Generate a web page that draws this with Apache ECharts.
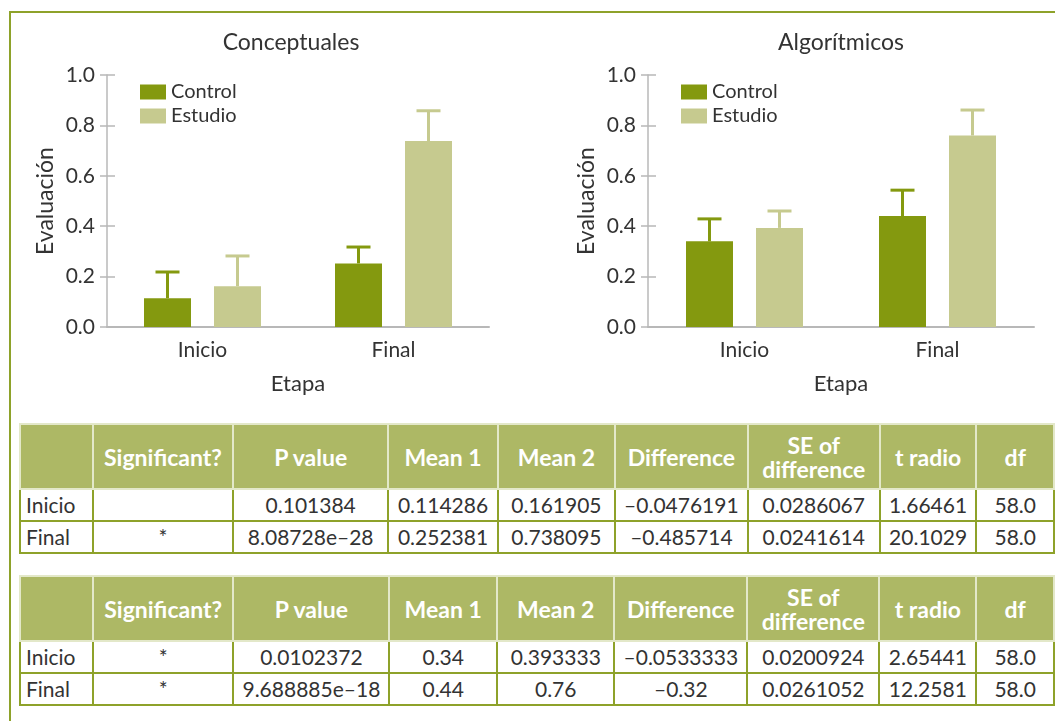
<!DOCTYPE html>
<html>
<head>
<meta charset="utf-8">
<script src="https://cdn.jsdelivr.net/npm/echarts@6/dist/echarts.min.js"></script>
<style>
body { margin: 0; width: 1055px; height: 721px; overflow: hidden; background: #fff; position: relative; font-family: Lato, sans-serif; }
.frame { position: absolute; left: 9px; top: 11px; width: 1100px; height: 800px; border-left: 2px solid #8ea22a; border-top: 2px solid #8ea22a; }
#chart { position: absolute; left: 0; top: 0; width: 1055px; height: 415px; }
table.stats { position: absolute; left: 19px; border-collapse: collapse; table-layout: fixed; font-size: 21px; color: #333; }
table.stats th { background: #adb865; color: #fff; font-weight: bold; font-size: 23px; border: 2px solid #e3e8c9; height: 63px; line-height: 24px; padding: 0; }
table.stats td { border: 2px solid #8ea22a; height: 30px; line-height: 26px; padding: 0; text-align: center; white-space: nowrap; }
table.stats td:first-child { text-align: left; padding-left: 5px; }
</style>
</head>
<body>
<div class="frame"></div>
<div id="chart"></div>
<script>
// datos de las graficas
var categories = ['Inicio', 'Final'];
var groups = ['Control', 'Estudio'];
var yTicks = [0, 0.2, 0.4, 0.6, 0.8, 1.0];

var concControl = [0.114286, 0.252381];
var concEstudio = [0.161905, 0.738095];
var concControlErr = [0.104, 0.065];
var concEstudioErr = [0.12, 0.12];

var algoControl = [0.34, 0.44];
var algoEstudio = [0.393333, 0.76];
var algoControlErr = [0.089, 0.103];
var algoEstudioErr = [0.067, 0.101];

// tablas
var tableHeader = ['', 'Significant?', 'P value', 'Mean 1', 'Mean 2', 'Difference', 'SE of<br>difference', 't radio', 'df'];
var colWidths = [74, 142, 157, 111, 119, 134, 134, 98, 80];
var concRows = [
  ['Inicio', '', '0.101384', '0.114286', '0.161905', '–0.0476191', '0.0286067', '1.66461', '58.0'],
  ['Final', '*', '8.08728e–28', '0.252381', '0.738095', '–0.485714', '0.0241614', '20.1029', '58.0']
];
var algoRows = [
  ['Inicio', '*', '0.0102372', '0.34', '0.393333', '–0.0533333', '0.0200924', '2.65441', '58.0'],
  ['Final', '*', '9.688885e–18', '0.44', '0.76', '–0.32', '0.0261052', '12.2581', '58.0']
];

var cControl = '#84990f';
var cEstudio = '#c6ca8f';
var barW = 47, gapPx = 23;
var txt = '#333';
var axisGray = '#b8b8b8';

function buildTable(rows, top) {
  var t = document.createElement('table');
  t.className = 'stats';
  t.style.top = top + 'px';
  var cg = '<colgroup>' + colWidths.map(function (w) { return '<col style="width:' + w + 'px">'; }).join('') + '</colgroup>';
  var head = '<tr>' + tableHeader.map(function (h) { return '<th>' + h + '</th>'; }).join('') + '</tr>';
  var body = rows.map(function (r) {
    return '<tr>' + r.map(function (c) { return '<td>' + c + '</td>'; }).join('') + '</tr>';
  }).join('');
  t.innerHTML = cg + head + body;
  document.body.appendChild(t);
}
buildTable(concRows, 423);
buildTable(algoRows, 575);

function errSeries(name, g, means, errs, side, color) {
  return {
    name: name, type: 'custom', xAxisIndex: g * 2, yAxisIndex: g * 2, z: 3,
    data: means.map(function (m, i) { return [i, m, m + errs[i]]; }),
    renderItem: function (params, api) {
      var b = api.coord([api.value(0), api.value(1)]);
      var t = api.coord([api.value(0), api.value(2)]);
      var x = b[0] + side * (barW + gapPx) / 2;
      return {
        type: 'group',
        children: [
          { type: 'line', shape: { x1: x, y1: b[1], x2: x, y2: t[1] }, style: { stroke: color, lineWidth: 3 } },
          { type: 'line', shape: { x1: x - 12, y1: t[1], x2: x + 12, y2: t[1] }, style: { stroke: color, lineWidth: 3 } }
        ]
      };
    }
  };
}

function barSeries(name, g, vals, color) {
  return {
    name: name, type: 'bar', xAxisIndex: g * 2, yAxisIndex: g * 2,
    barWidth: barW, barGap: (gapPx / barW * 100) + '%',
    itemStyle: { color: color }, data: vals
  };
}

function xAxes(g) {
  return [{
    type: 'category', gridIndex: g, data: categories,
    name: 'Etapa', nameLocation: 'middle', nameGap: 46,
    nameTextStyle: { fontSize: 22, color: txt, fontFamily: 'Lato' },
    axisLine: { lineStyle: { color: axisGray, width: 2 } },
    axisTick: { alignWithLabel: true, length: 6, lineStyle: { color: axisGray, width: 1.5 } },
    axisLabel: { fontSize: 21, color: txt, margin: 13, fontFamily: 'Lato' }
  }, {
    type: 'category', gridIndex: g, data: categories, position: 'bottom',
    axisLine: { show: false }, axisLabel: { show: false },
    axisTick: { inside: true, alignWithLabel: true, length: 7, lineStyle: { color: axisGray, width: 1.5 } }
  }];
}

function yAxes(g) {
  return [{
    type: 'value', gridIndex: g, min: yTicks[0], max: yTicks[yTicks.length - 1], interval: yTicks[1] - yTicks[0],
    name: 'Evaluación', nameLocation: 'middle', nameGap: 50, nameRotate: 90,
    nameTextStyle: { fontSize: 23, color: txt, fontFamily: 'Lato' },
    splitLine: { show: false },
    axisLine: { show: true, lineStyle: { color: axisGray, width: 1.5 } },
    axisTick: { show: true, length: 7, lineStyle: { color: axisGray, width: 1.5 } },
    axisLabel: { fontSize: 21, color: txt, margin: 12, fontFamily: 'Lato', formatter: function (v) { return v.toFixed(1); } }
  }, {
    type: 'value', gridIndex: g, min: yTicks[0], max: yTicks[yTicks.length - 1], interval: yTicks[1] - yTicks[0],
    position: 'left', splitLine: { show: false }, axisLine: { show: false }, axisLabel: { show: false },
    axisTick: { show: true, inside: true, length: 8, lineStyle: { color: axisGray, width: 1.5 } }
  }];
}

function legend(left) {
  return {
    data: groups, orient: 'vertical', left: left, top: 77,
    itemWidth: 26, itemHeight: 15, itemGap: 4, icon: 'rect',
    textStyle: { fontSize: 20, color: txt, fontFamily: 'Lato', lineHeight: 20, padding: [0, 0, 0, 0] }
  };
}

var chart = echarts.init(document.getElementById('chart'));
chart.setOption({
  animation: false,
  textStyle: { fontFamily: 'Lato' },
  grid: [
    { left: 107, top: 75, width: 382, height: 252 },
    { left: 648, top: 75, width: 386, height: 252 }
  ],
  graphic: [
    { type: 'text', x: 291, y: 31, style: { text: 'Conceptuales', fontSize: 23, fill: txt, fontFamily: 'Lato', textAlign: 'center' } },
    { type: 'text', x: 841, y: 31, style: { text: 'Algorítmicos', fontSize: 23, fill: txt, fontFamily: 'Lato', textAlign: 'center' } }
  ],
  legend: [legend(135), legend(676)],
  xAxis: xAxes(0).concat(xAxes(1)),
  yAxis: yAxes(0).concat(yAxes(1)),
  series: [
    barSeries('Control', 0, concControl, cControl),
    barSeries('Estudio', 0, concEstudio, cEstudio),
    barSeries('Control', 1, algoControl, cControl),
    barSeries('Estudio', 1, algoEstudio, cEstudio),
    errSeries('Control', 0, concControl, concControlErr, -1, cControl),
    errSeries('Estudio', 0, concEstudio, concEstudioErr, 1, cEstudio),
    errSeries('Control', 1, algoControl, algoControlErr, -1, cControl),
    errSeries('Estudio', 1, algoEstudio, algoEstudioErr, 1, cEstudio)
  ]
});
</script>
</body>
</html>
